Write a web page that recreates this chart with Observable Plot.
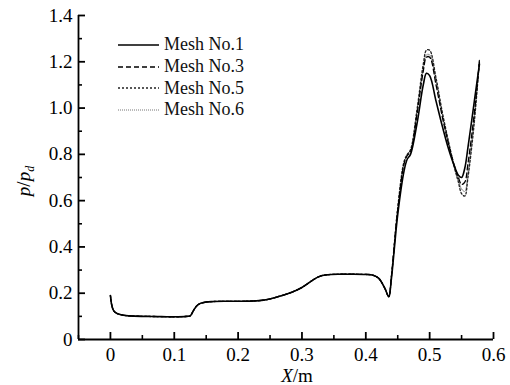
<!DOCTYPE html>
<html><head><meta charset="utf-8">
<script src="https://cdn.jsdelivr.net/npm/d3@7"></script>
<script src="https://cdn.jsdelivr.net/npm/@observablehq/plot@0.6"></script>
<style>
body{margin:0;background:#fff;}
#wrap{position:relative;width:510px;height:385px;background:#fff;}
#wrap svg text{font-family:"Liberation Serif","Times New Roman",serif;font-size:19px;}
#legend{position:absolute;left:118px;top:34px;font-family:"Liberation Serif","Times New Roman",serif;font-size:18px;color:#111;}
#legend .row{display:flex;align-items:center;height:21.7px;}
#legend svg{margin-right:4px;}
</style></head><body><div id="wrap"><div id="legend"></div></div>
<script>
// ---- data ----
const xs = [0, 0.002, 0.005, 0.01, 0.02, 0.03, 0.05, 0.08, 0.1, 0.12, 0.125, 0.13, 0.135, 0.14, 0.15, 0.16, 0.18, 0.2, 0.22, 0.24, 0.26, 0.28, 0.3, 0.32, 0.33, 0.34, 0.36, 0.38, 0.4, 0.41, 0.42, 0.43, 0.436, 0.44, 0.45, 0.46, 0.465, 0.47, 0.48, 0.49, 0.495, 0.5, 0.51, 0.52, 0.53, 0.54, 0.545, 0.55, 0.555, 0.56, 0.57, 0.578];
const mesh1 = [0.19, 0.15, 0.125, 0.113, 0.105, 0.102, 0.100, 0.099, 0.098, 0.100, 0.102, 0.125, 0.145, 0.155, 0.162, 0.164, 0.165, 0.165, 0.166, 0.170, 0.183, 0.200, 0.225, 0.262, 0.275, 0.280, 0.282, 0.282, 0.281, 0.279, 0.265, 0.22, 0.185, 0.26, 0.54, 0.73, 0.78, 0.80, 0.93, 1.10, 1.15, 1.14, 1.03, 0.92, 0.82, 0.74, 0.71, 0.70, 0.74, 0.83, 1.03, 1.19];
const mesh3 = [0.19, 0.15, 0.125, 0.113, 0.105, 0.102, 0.100, 0.099, 0.098, 0.100, 0.102, 0.125, 0.145, 0.155, 0.162, 0.164, 0.165, 0.165, 0.166, 0.170, 0.183, 0.200, 0.225, 0.262, 0.275, 0.280, 0.282, 0.282, 0.281, 0.279, 0.265, 0.22, 0.185, 0.27, 0.56, 0.76, 0.795, 0.81, 0.97, 1.16, 1.22, 1.22, 1.10, 0.96, 0.84, 0.74, 0.70, 0.67, 0.68, 0.76, 0.98, 1.20];
const mesh5 = [0.19, 0.15, 0.125, 0.113, 0.105, 0.102, 0.100, 0.099, 0.098, 0.100, 0.102, 0.125, 0.145, 0.155, 0.162, 0.164, 0.165, 0.165, 0.166, 0.170, 0.183, 0.200, 0.225, 0.262, 0.275, 0.280, 0.282, 0.282, 0.281, 0.279, 0.265, 0.22, 0.185, 0.27, 0.57, 0.77, 0.80, 0.82, 0.99, 1.19, 1.25, 1.25, 1.13, 0.98, 0.85, 0.73, 0.68, 0.63, 0.62, 0.70, 0.94, 1.21];
const mesh6 = [0.19, 0.15, 0.125, 0.113, 0.105, 0.102, 0.100, 0.099, 0.098, 0.100, 0.102, 0.125, 0.145, 0.155, 0.162, 0.164, 0.165, 0.165, 0.166, 0.170, 0.183, 0.200, 0.225, 0.262, 0.275, 0.280, 0.282, 0.282, 0.281, 0.279, 0.265, 0.22, 0.185, 0.27, 0.56, 0.76, 0.80, 0.815, 0.98, 1.17, 1.23, 1.23, 1.12, 0.97, 0.84, 0.73, 0.69, 0.65, 0.64, 0.72, 0.96, 1.20];
const seriesNames = ["Mesh No.1", "Mesh No.3", "Mesh No.5", "Mesh No.6"];
const xDomain = [-0.05, 0.6];
const yDomain = [0, 1.4];
const xTicks = [0, 0.1, 0.2, 0.3, 0.4, 0.5, 0.6];
const xMinor = [-0.05, 0.05, 0.15, 0.25, 0.35, 0.45, 0.55];
const yTicks = [0, 0.2, 0.4, 0.6, 0.8, 1.0, 1.2, 1.4];
const yMinor = [0.1, 0.3, 0.5, 0.7, 0.9, 1.1, 1.3];

const W = 510, H = 385, mL = 78, mR = 17, mT = 15, mB = 46;
const plotW = W - mL - mR, plotH = H - mT - mB;
const lineStyles = [
  {stroke: "black", strokeWidth: 1.6, dash: "none"},
  {stroke: "black", strokeWidth: 1.3, dash: "5,3"},
  {stroke: "#222222", strokeWidth: 1.3, dash: "2,2"},
  {stroke: "#777777", strokeWidth: 1.0, dash: "1,1"}
];
const allY = [mesh1, mesh3, mesh5, mesh6];
const seriesRows = allY.map(arr => xs.map((x, i) => ({x, y: arr[i]})));
const fmt = d => d === 0 ? "0" : d3.format(".1f")(d);
const lineMarks = [3, 2, 1, 0].map(k => Plot.line(seriesRows[k], {
  x: "x", y: "y", stroke: lineStyles[k].stroke, strokeWidth: lineStyles[k].strokeWidth,
  strokeDasharray: lineStyles[k].dash, curve: "catmull-rom"
}));
const chart = Plot.plot({
  width: W, height: H,
  marginLeft: mL, marginRight: mR, marginTop: mT, marginBottom: mB,
  style: {fontSize: "18px", color: "black", background: "#fff"},
  x: {domain: xDomain},
  y: {domain: yDomain},
  marks: [
    Plot.tickY(yTicks, {y: d => d, stroke: "black", strokeWidth: 1.8, insetRight: plotW - 7}),
    Plot.tickY(yMinor, {y: d => d, stroke: "black", strokeWidth: 1.6, insetRight: plotW - 4}),
    Plot.tickX(xTicks, {x: d => d, stroke: "black", strokeWidth: 1.8, insetTop: plotH - 7}),
    Plot.tickX(xMinor, {x: d => d, stroke: "black", strokeWidth: 1.6, insetTop: plotH - 4}),
    Plot.ruleX([xDomain[0]], {stroke: "black", strokeWidth: 1.8}),
    Plot.ruleY([yDomain[0]], {stroke: "black", strokeWidth: 1.8}),
    Plot.axisY({ticks: yTicks, tickSize: 0, tickPadding: 6, tickFormat: fmt, label: null, fontSize: 19}),
    Plot.axisX({ticks: xTicks, tickSize: 0, tickPadding: 8, tickFormat: fmt, label: null, fontSize: 19}),
    ...lineMarks
  ]
});
document.getElementById("wrap").prepend(chart);

// axis titles
const svg = d3.select(chart);
const yl = svg.append("text")
  .attr("transform", "translate(30,181) rotate(-90)")
  .attr("text-anchor", "middle").attr("fill", "black");
yl.append("tspan").attr("font-style", "italic").text("p");
yl.append("tspan").text("/");
yl.append("tspan").attr("font-style", "italic").text("p");
yl.append("tspan").attr("font-style", "italic").attr("font-size", 12).attr("dy", 4).text("d");
const xl = svg.append("text")
  .attr("x", 297).attr("y", 382)
  .attr("text-anchor", "middle").attr("fill", "black");
xl.append("tspan").attr("font-style", "italic").text("X");
xl.append("tspan").text("/m");

// legend
const leg = d3.select("#legend");
seriesNames.forEach((n, k) => {
  const r = leg.append("div").attr("class", "row");
  const s = r.append("svg").attr("width", 42).attr("height", 10);
  s.append("line").attr("x1", 0).attr("x2", 41).attr("y1", 5).attr("y2", 5)
    .attr("stroke", lineStyles[k].stroke).attr("stroke-width", lineStyles[k].strokeWidth)
    .attr("stroke-dasharray", lineStyles[k].dash);
  r.append("span").text(n);
});
</script>
</body></html>
